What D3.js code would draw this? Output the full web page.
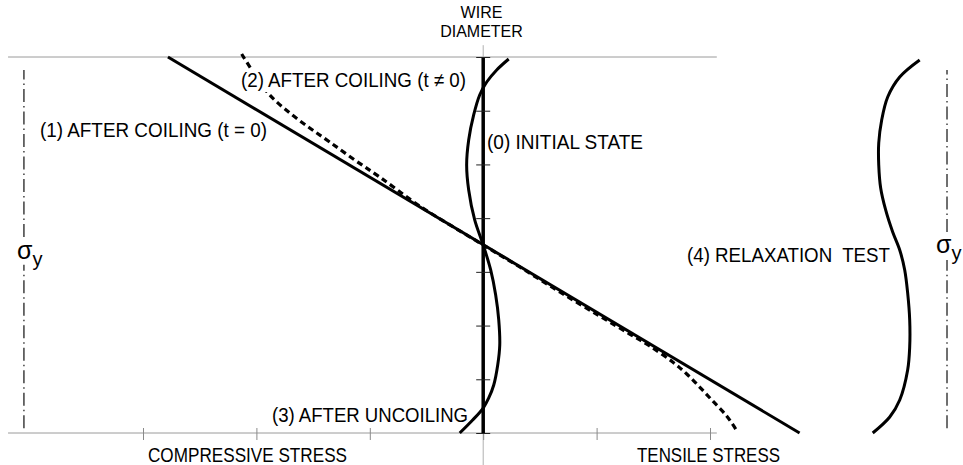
<!DOCTYPE html>
<html>
<head>
<meta charset="utf-8">
<script src="https://cdn.jsdelivr.net/npm/d3@7"></script>
<style>
  body { margin: 0; background: #fff; }
  svg text { font-family: "Liberation Sans", Arial, sans-serif; fill: #000; }
</style>
</head>
<body>
<div id="holder"></div>
<script>
const w = 963;
const h = 465;

// DATA  (x = stress, y = position across the wire diameter 0..7)
const stressTicks = [-3, -2, -1, 0, 1, 2];
const diameterTicks = [0, 1, 2, 3, 4, 5, 6, 7];

// (1) after coiling, t = 0 : straight line
const coilX = [-2.78, 2.79];
const coilY = [7.0, 0];

// (2) after coiling, t != 0 : dashed
const coilTimeX = [-2.13, -2.006, -1.883, -1.706, -1.53, -1.354, -1.133, -0.913, -0.56, 0, 0.322, 0.675, 1.027, 1.292, 1.468, 1.671, 1.795, 1.909, 2.024, 2.147, 2.227];
const coilTimeY = [7.056, 6.647, 6.293, 5.958, 5.679, 5.418, 5.083, 4.766, 4.226, 3.5, 3.091, 2.625, 2.178, 1.843, 1.62, 1.322, 1.098, 0.856, 0.596, 0.317, 0.074];

// (3) after uncoiling
const uncoilX = [0.225, 0.119, 0.031, -0.031, -0.084, -0.128, -0.146, -0.128, -0.075, 0, 0.066, 0.11, 0.137, 0.146, 0.128, 0.093, 0.049, 0, -0.093, -0.207];
const uncoilY = [6.963, 6.759, 6.535, 6.293, 5.921, 5.455, 4.99, 4.524, 3.966, 3.5, 3.035, 2.569, 2.104, 1.638, 1.266, 0.894, 0.652, 0.465, 0.242, 0];

// (4) relaxation test
const relaxX = [3.849, 3.673, 3.567, 3.514, 3.488, 3.488, 3.505, 3.549, 3.611, 3.673, 3.717, 3.743, 3.761, 3.761, 3.743, 3.673, 3.585, 3.435];
const relaxY = [6.945, 6.628, 6.256, 5.828, 5.399, 4.99, 4.561, 4.152, 3.742, 3.407, 3.035, 2.607, 2.104, 1.601, 1.173, 0.614, 0.298, 0];

// yield stress lines (sigma_y), each with a gap for the label
const yieldX = [-4.05, 4.09];
const yieldSpans = [[[0.09, 3.13], [3.65, 6.76]], [[0.09, 3.22], [3.74, 6.76]]];

// frame lines
const frameX = [-4.19, 2.06];
const frameY = [0, 7];
const centerY = [-0.6, 7.22];

const titleLines = ["WIRE", "DIAMETER"];
const labels = ["(0) INITIAL STATE", "(1) AFTER COILING (t = 0)",
  "(2) AFTER COILING (t \u2260 0)", "(3) AFTER UNCOILING", "(4) RELAXATION  TEST",
  "COMPRESSIVE STRESS", "TENSILE STRESS"];

// LABEL LAYOUT (px)
const labelPos = [
  { x: 487, y: 149, len: 156 },
  { x: 40, y: 137, len: 227 },
  { x: 241, y: 87, len: 225, bg: true },
  { x: 272, y: 422, len: 196 },
  { x: 687, y: 262, len: 203 },
  { x: 148, y: 462, len: 199 },
  { x: 637, y: 462, len: 143 }
];

// CREATE SVG
const svg = d3.select("#holder")
  .append("svg")
  .attr("width", w)
  .attr("height", h);

const xScale = d3.scaleLinear().domain([-3, 2]).range([143, 710]);
const yScale = d3.scaleLinear().domain([0, 7]).range([433, 57]);

const toPts = (xs, ys) => xs.map((x, i) => [x, ys[i]]);
const line = d3.line()
  .x(d => xScale(d[0]))
  .y(d => yScale(d[1]))
  .curve(d3.curveCatmullRom.alpha(0.5));

// GRAY FRAME LINES
frameY.forEach(v => {
  svg.append("line")
    .attr("x1", xScale(frameX[0])).attr("x2", xScale(frameX[1]))
    .attr("y1", yScale(v)).attr("y2", yScale(v))
    .attr("stroke", "#9a9a9a").attr("stroke-width", 1);
});
svg.append("line")
  .attr("x1", xScale(0)).attr("x2", xScale(0))
  .attr("y1", yScale(centerY[1])).attr("y2", yScale(centerY[0]))
  .attr("stroke", "#b0b0b0").attr("stroke-width", 1);

// STRESS AXIS TICKS
const xAxis = d3.axisBottom(xScale).tickValues(stressTicks).tickSize(7).tickFormat("");
const gx = svg.append("g")
  .attr("transform", "translate(0," + yScale(0) + ")")
  .call(xAxis);
gx.select(".domain").remove();
gx.selectAll(".tick line").attr("y1", -5).attr("stroke", "#8a8a8a");

// YIELD LINES
yieldX.forEach((x, i) => {
  yieldSpans[i].forEach(s => {
    svg.append("line")
      .attr("x1", xScale(x)).attr("x2", xScale(x))
      .attr("y1", yScale(s[0])).attr("y2", yScale(s[1]))
      .attr("stroke", "#222").attr("stroke-width", 1.3)
      .attr("stroke-dasharray", "13,4,1.5,4");
  });
});

// WIRE DIAMETER AXIS
svg.append("line")
  .attr("x1", xScale(0)).attr("x2", xScale(0))
  .attr("y1", yScale(7)).attr("y2", yScale(0))
  .attr("stroke", "#000").attr("stroke-width", 3.5);
const yAxis = d3.axisLeft(yScale).tickValues(diameterTicks).tickSize(7).tickFormat("");
const gy = svg.append("g")
  .attr("transform", "translate(" + xScale(0) + ",0)")
  .call(yAxis);
gy.select(".domain").remove();
gy.selectAll(".tick line").attr("x2", -7).attr("x1", 7).attr("stroke", "#222");

// CURVES
svg.append("path")
  .attr("d", line(toPts(coilX, coilY)))
  .attr("fill", "none").attr("stroke", "#000").attr("stroke-width", 3);

svg.append("path")
  .attr("d", line(toPts(coilTimeX, coilTimeY)))
  .attr("fill", "none").attr("stroke", "#000").attr("stroke-width", 3.2)
  .attr("stroke-dasharray", "6,4");

svg.append("path")
  .attr("d", line(toPts(uncoilX, uncoilY)))
  .attr("fill", "none").attr("stroke", "#000").attr("stroke-width", 3);

svg.append("path")
  .attr("d", line(toPts(relaxX, relaxY)))
  .attr("fill", "none").attr("stroke", "#000").attr("stroke-width", 3);

// WIRE DIAMETER TITLE
titleLines.forEach((t, i) => {
  svg.append("text")
    .attr("x", 481.5).attr("y", i === 0 ? 18 : 37)
    .attr("font-size", 16)
    .attr("text-anchor", "middle")
    .text(t);
});

// LABELS
labels.forEach((t, i) => {
  const p = labelPos[i];
  if (p.bg) {
    svg.append("rect")
      .attr("x", p.x - 1).attr("y", p.y - 17)
      .attr("width", p.len + 2).attr("height", 22)
      .attr("fill", "#fff");
  }
  svg.append("text")
    .attr("x", p.x).attr("y", p.y)
    .attr("font-size", 20)
    .style("white-space", "pre")
    .attr("textLength", p.len)
    .attr("lengthAdjust", "spacingAndGlyphs")
    .text(t);
});

// SIGMA Y LABELS
const sigmaPos = [{ x: 17, y: 259 }, { x: 936, y: 253 }];
sigmaPos.forEach(p => {
  const s = svg.append("text").attr("x", p.x).attr("y", p.y).attr("font-size", 25);
  s.append("tspan").text("\u03c3");
  s.append("tspan").attr("font-size", 20).attr("dy", 7).text("y");
});
</script>
</body>
</html>
